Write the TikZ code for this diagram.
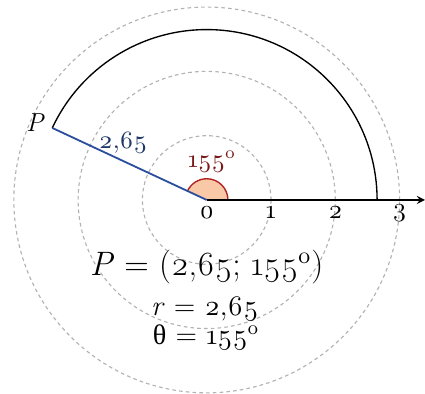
\documentclass[tikz,border=0pt]{standalone}
\usepackage{fontspec}
\setmainfont{Latin Modern Roman}[Numbers=OldStyle]
\newfontfamily\grk{Liberation Serif}
\definecolor{peach}{HTML}{F9C8A6}
\definecolor{wedgered}{HTML}{B02020}
\definecolor{anglered}{HTML}{7A1818}
\definecolor{segblue}{HTML}{2A4E9C}
\definecolor{labblue}{HTML}{1F3766}
\tikzset{
  grid circle/.style={draw=gray!60, dash pattern=on 1.6pt off 1.4pt, line width=0.5pt},
  tick label/.style={font=\fontsize{11.5}{12}\selectfont, inner sep=0pt},
  formula/.style={inner sep=0pt},
}
\begin{document}
\begin{tikzpicture}[x=1cm,y=1cm]
\useasboundingbox (-3.215,-3.017) rectangle (3.395,3.11);
\coordinate (O) at (0,0);
\coordinate (P) at (155:2.65);
\coordinate (A) at (2.65,0);
\coordinate (E) at (3.395,0);
\foreach \r in {1,2,3} \path[grid circle] (O) circle (\r);
\fill[peach] (O) -- (0.33,0) arc (0:155:0.33) -- cycle;
\draw[wedgered, line width=0.6pt] (0.33,0) arc (0:155:0.33);
\draw[line width=0.6pt] (A) arc (0:155:2.65);
\draw[line width=0.6pt, -stealth] (O) -- (E);
\draw[segblue, line width=0.8pt] (O) -- (P);
\node[font=\fontsize{11.5}{12}\selectfont\itshape, anchor=east, inner sep=1pt] (Pl) at (-2.5,1.21) {P};
\node[font=\fontsize{11}{12}\selectfont, text=labblue] (len) at (-1.30,0.89) {2,65};
\node[font=\fontsize{11}{12}\selectfont, text=anglered] (ang) at (0.08,0.60) {155\textsuperscript{o}};
\node[tick label] (t0) at (0,-0.2) {0};
\node[tick label] (t1) at (1,-0.2) {1};
\node[tick label] (t2) at (2,-0.2) {2};
\node[tick label] (t3) at (3,-0.2) {3};
\node[formula, font=\fontsize{15}{16}\selectfont] (f1) at (0,-1.04) {\textit{P} = (2,65; 155\textsuperscript{o})};
\node[formula, font=\fontsize{12.5}{13}\selectfont] (f2) at (-0.03,-1.70) {\textit{r} = 2,65};
\node[formula, font=\fontsize{12.5}{13}\selectfont] (f3) at (-0.01,-2.14) {{\grk θ} = 155\textsuperscript{o}};
\end{tikzpicture}
\end{document}
